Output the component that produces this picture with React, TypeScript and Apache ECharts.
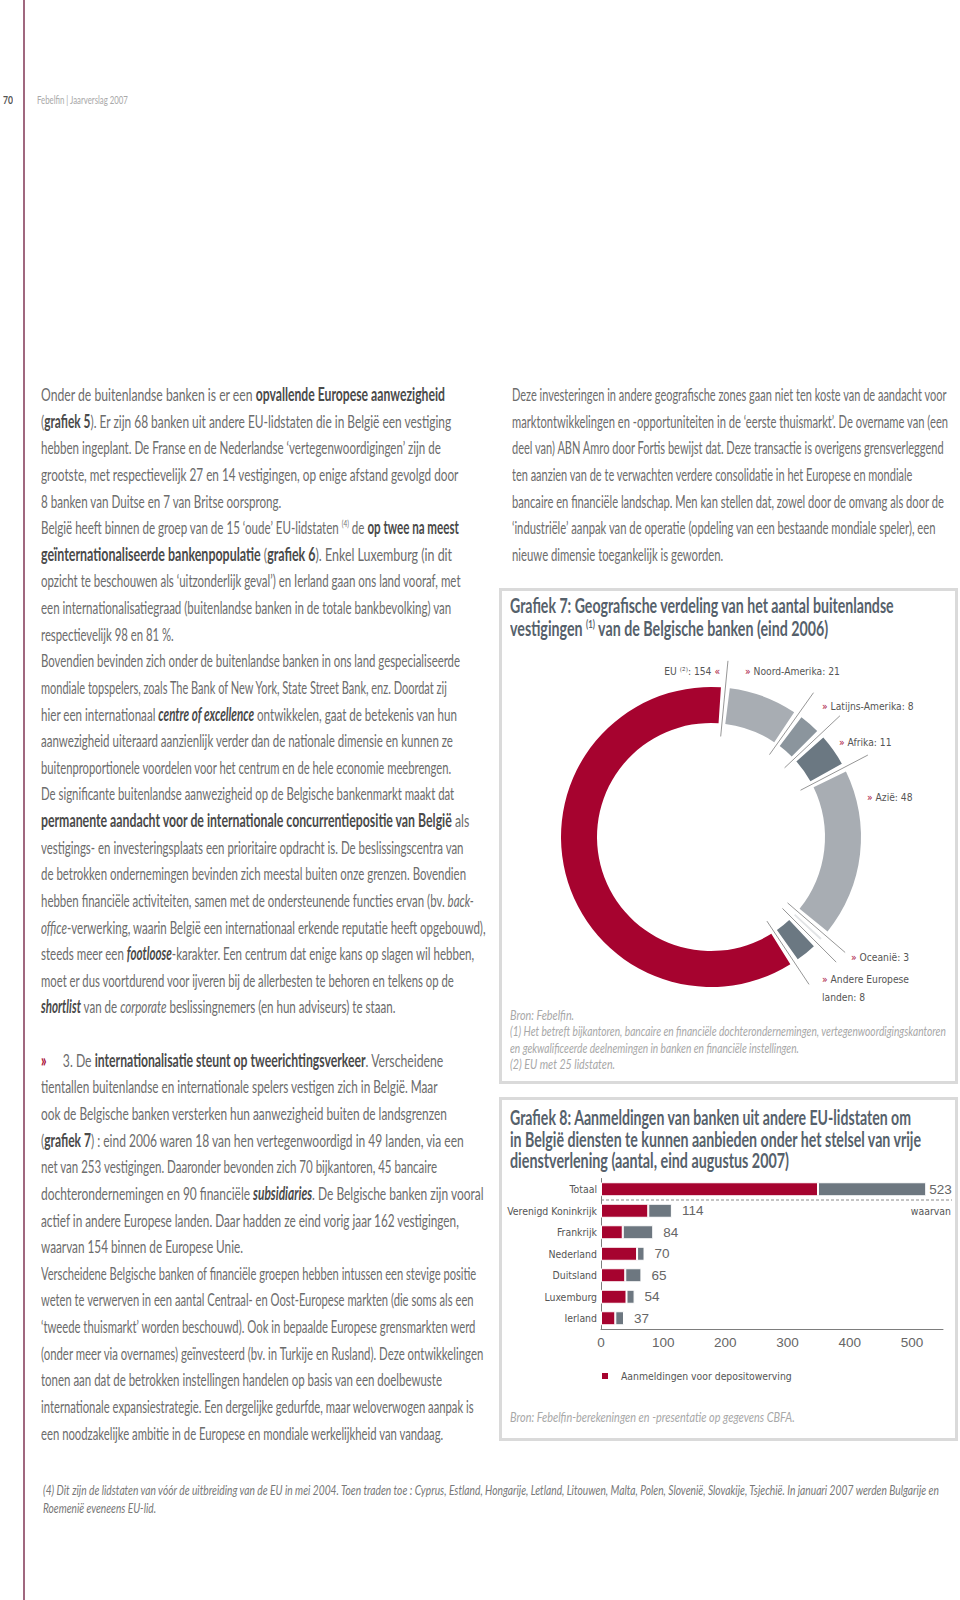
import React, { useEffect, useLayoutEffect, useRef, useMemo } from 'react';
import * as echarts from 'echarts';

// ---------------- data ----------------
const regionNames = ['Noord-Amerika', 'Latijns-Amerika', 'Afrika', 'Azië', 'Oceanië', 'Andere Europese landen', 'EU'];
const regionValues = [21, 8, 11, 48, 3, 8, 154];

const barCategories = ['Totaal', 'Verenigd Koninkrijk', 'Frankrijk', 'Nederland', 'Duitsland', 'Luxemburg', 'Ierland'];
const depositValues = [349, 76, 35, 58, 39, 41, 23];
const otherValues = [174, 38, 49, 12, 26, 13, 14];
const totalValues = [523, 114, 84, 70, 65, 54, 37];
const xAxisMin = 0;
const xAxisMax = 550;
const xAxisInterval = 100;
const legendLabel = 'Aanmeldingen voor depositowerving';
const otherLabel = 'Overige aanmeldingen';

const leftLines = [
  'Onder de buitenlandse banken is er een **opvallende Europese aanwezigheid**',
  '(**grafiek 5**). Er zijn 68 banken uit andere EU-lidstaten die in België een vestiging',
  'hebben ingeplant. De Franse en de Nederlandse ‘vertegenwoordigingen’ zijn de',
  'grootste, met respectievelijk 27 en 14 vestigingen, op enige afstand gevolgd door',
  '8 banken van Duitse en 7 van Britse oorsprong.',
  'België heeft binnen de groep van de 15 ‘oude’ EU-lidstaten ^(4)^ de **op twee na meest**',
  '**geïnternationaliseerde bankenpopulatie** (**grafiek 6**). Enkel Luxemburg (in dit',
  'opzicht te beschouwen als ‘uitzonderlijk geval’) en Ierland gaan ons land vooraf, met',
  'een internationalisatiegraad (buitenlandse banken in de totale bankbevolking) van',
  'respectievelijk 98 en 81 %.',
  'Bovendien bevinden zich onder de buitenlandse banken in ons land gespecialiseerde',
  'mondiale topspelers, zoals The Bank of New York, State Street Bank, enz. Doordat zij',
  'hier een internationaal ***centre of excellence*** ontwikkelen, gaat de betekenis van hun',
  'aanwezigheid uiteraard aanzienlijk verder dan de nationale dimensie en kunnen ze',
  'buitenproportionele voordelen voor het centrum en de hele economie meebrengen.',
  'De significante buitenlandse aanwezigheid op de Belgische bankenmarkt maakt dat',
  '**permanente aandacht voor de internationale concurrentiepositie van België** als',
  'vestigings- en investeringsplaats een prioritaire opdracht is. De beslissingscentra van',
  'de betrokken ondernemingen bevinden zich meestal buiten onze grenzen. Bovendien',
  'hebben financiële activiteiten, samen met de ondersteunende functies ervan (bv. *back-*',
  '*office*-verwerking, waarin België een internationaal erkende reputatie heeft opgebouwd),',
  'steeds meer een ***footloose***-karakter. Een centrum dat enige kans op slagen wil hebben,',
  'moet er dus voortdurend voor ijveren bij de allerbesten te behoren en telkens op de',
  '***shortlist*** van de *corporate* beslissingnemers (en hun adviseurs) te staan.',
  '',
  '~»~3. De **internationalisatie steunt op tweerichtingsverkeer**. Verscheidene',
  'tientallen buitenlandse en internationale spelers vestigen zich in België. Maar',
  'ook de Belgische banken versterken hun aanwezigheid buiten de landsgrenzen',
  '(**grafiek 7**) : eind 2006 waren 18 van hen vertegenwoordigd in 49 landen, via een',
  'net van 253 vestigingen. Daaronder bevonden zich 70 bijkantoren, 45 bancaire',
  'dochterondernemingen en 90 financiële ***subsidiaries***. De Belgische banken zijn vooral',
  'actief in andere Europese landen. Daar hadden ze eind vorig jaar 162 vestigingen,',
  'waarvan 154 binnen de Europese Unie.',
  'Verscheidene Belgische banken of financiële groepen hebben intussen een stevige positie',
  'weten te verwerven in een aantal Centraal- en Oost-Europese markten (die soms als een',
  '‘tweede thuismarkt’ worden beschouwd). Ook in bepaalde Europese grensmarkten werd',
  '(onder meer via overnames) geïnvesteerd (bv. in Turkije en Rusland). Deze ontwikkelingen',
  'tonen aan dat de betrokken instellingen handelen op basis van een doelbewuste',
  'internationale expansiestrategie. Een dergelijke gedurfde, maar weloverwogen aanpak is',
  'een noodzakelijke ambitie in de Europese en mondiale werkelijkheid van vandaag.',
];

const rightLines = [
  'Deze investeringen in andere geografische zones gaan niet ten koste van de aandacht voor',
  'marktontwikkelingen en -opportuniteiten in de ‘eerste thuismarkt’. De overname van (een',
  'deel van) ABN Amro door Fortis bewijst dat. Deze transactie is overigens grensverleggend',
  'ten aanzien van de te verwachten verdere consolidatie in het Europese en mondiale',
  'bancaire en financiële landschap. Men kan stellen dat, zowel door de omvang als door de',
  '‘industriële’ aanpak van de operatie (opdeling van een bestaande mondiale speler), een',
  'nieuwe dimensie toegankelijk is geworden.',
];

const title7Lines = [
  'Grafiek 7: Geografische verdeling van het aantal buitenlandse',
  'vestigingen ^(1)^ van de Belgische banken (eind 2006)',
];
const notes7Lines = [
  'Bron: Febelfin.',
  '(1)  Het betreft bijkantoren, bancaire en financiële dochterondernemingen, vertegenwoordigingskantoren',
  'en gekwalificeerde deelnemingen in banken en financiële instellingen.',
  '(2) EU met 25 lidstaten.',
];
const title8Lines = [
  'Grafiek 8: Aanmeldingen van banken uit andere EU-lidstaten om',
  'in België diensten te kunnen aanbieden onder het stelsel van vrije',
  'dienstverlening (aantal, eind augustus 2007)',
];
const source8 = 'Bron: Febelfin-berekeningen en -presentatie op gegevens CBFA.';
const footnoteLines = [
  '(4)  Dit zijn de lidstaten van vóór de uitbreiding van de EU in mei 2004. Toen traden toe : Cyprus, Estland, Hongarije, Letland, Litouwen, Malta, Polen, Slovenië, Slovakije, Tsjechië. In januari 2007 werden Bulgarije en',
  'Roemenië eveneens EU-lid.',
];
const pageNumber = '70';
const headerText = 'Febelfin | Jaarverslag 2007';

// ---------------- layout (line right ends, page px) ----------------
const LEFT_X = 40.7;
const RIGHT_X = 511.7;
const leftEnds = [
  445, 450.7, 440.7, 458.3, 280.7, 458.3, 452, 460, 450.7, 173.3,
  460, 446.7, 456.7, 452.7, 450.7, 454, 469.3, 463.3, 466, 473.3,
  485, 474, 453.3, 395, 0, 442.7, 437.3, 446.7, 463.3, 436.7,
  483.3, 458.3, 242.7, 476, 473.3, 475, 483.3, 441.7, 473.3, 442.7,
];
const rightEnds = [946, 948, 943, 912, 943.5, 935, 723];
const title7W = [383.7, 318];
const title8W = [401, 411, 279];
const notes7W = [64, 436, 289, 105];
const source8W = 285;
const footW = [896, 113];
const headerW = 91;

// ---------------- styles ----------------
const RED = '#a6032f';
const TEXT_C = '#6c6c6c';
const BOLD_C = '#4a4a4a';
const TITLE_C = '#56616b';
const NOTE_C = '#a8a8a8';
const regionColors = ['#a8adb3', '#8b959d', '#6b7882', '#a8adb3', '#e3e5e7', '#6b7882', RED];
const NARROW = "'Liberation Sans Narrow', 'Arial Narrow', 'DejaVu Sans Condensed', 'Roboto', sans-serif";
const BODY = 'Lato';

let _ctx: CanvasRenderingContext2D | null = null;
function mw(text: string, font: string): number {
  if (!_ctx) _ctx = document.createElement('canvas').getContext('2d');
  _ctx!.font = font;
  return _ctx!.measureText(text).width;
}

function renderMarkup(s: string) {
  const parts = s.split(/(\*\*\*[^*]+\*\*\*|\*\*[^*]+\*\*|\*[^*]+\*|\^[^^]+\^|~[^~]+~)/g).filter(Boolean);
  return parts.map((p, i) => {
    if (p.startsWith('***')) return <span key={i} style={{ fontStyle: 'italic', fontWeight: 700, color: BOLD_C }}>{p.slice(3, -3)}</span>;
    if (p.startsWith('**')) return <span key={i} style={{ fontWeight: 700, color: BOLD_C }}>{p.slice(2, -2)}</span>;
    if (p.startsWith('*')) return <span key={i} style={{ fontStyle: 'italic' }}>{p.slice(1, -1)}</span>;
    if (p.startsWith('^')) return <span key={i} style={{ fontSize: '0.55em', position: 'relative', top: '-0.7em' }}>{p.slice(1, -1)}</span>;
    if (p.startsWith('~')) return <span key={i} style={{ color: RED, fontWeight: 700, paddingRight: 24 }}>{p.slice(1, -1)}</span>;
    return <React.Fragment key={i}>{p}</React.Fragment>;
  });
}

type LineProps = { x: number; y: number; h: number; w: number; size: number; weight?: number; italic?: boolean; color: string; text: string; family?: string };
function Line({ x, y, h, w, size, weight = 400, italic = false, color, text, family = BODY }: LineProps) {
  const ref = useRef<HTMLDivElement>(null);
  useLayoutEffect(() => {
    const fit = () => {
      const el = ref.current;
      if (!el) return;
      const nat = el.offsetWidth;
      if (nat > 0) el.style.transform = `scaleX(${w / nat})`;
    };
    fit();
    const f: any = (document as any).fonts;
    if (f && f.ready) f.ready.then(fit);
  }, [w, text]);
  return (
    <div
      ref={ref}
      style={{
        position: 'absolute', left: x, top: y - h / 2, height: h, lineHeight: h + 'px',
        whiteSpace: 'nowrap', transformOrigin: '0 50%',
        fontFamily: family, fontSize: size, fontWeight: weight, fontStyle: italic ? 'italic' : 'normal', color,
      }}
    >
      {renderMarkup(text)}
    </div>
  );
}

// donut geometry
const D_CX = 211, D_CY = 248, D_RIN = 114, D_ROUT = 150, D_OFFSET = 5.5;
const SEP_R1 = 101, SEP_R2 = 177;
const donutLabelPos = [
  { x: 245, y: 82, align: 'left' },
  { x: 322, y: 117, align: 'left' },
  { x: 339, y: 153, align: 'left' },
  { x: 367, y: 208, align: 'left' },
  { x: 351, y: 368, align: 'left' },
  { x: 322, y: 399, align: 'left' },
  { x: 220, y: 82, align: 'right' },
];

// bar geometry
const B_LEFT = 101, B_RIGHT = 14, B_TOP = 80.5, B_BOTTOM = 111, B_W = 457, B_H = 342;

function DonutChart({ fs }: { fs: number }) {
  const ref = useRef<HTMLDivElement>(null);
  useEffect(() => {
    const chart = echarts.init(ref.current!, undefined, { renderer: 'svg' });
    const total = regionValues.reduce((a, b) => a + b, 0);
    const lines: any[] = [];
    let cum = 0;
    for (let i = 0; i < regionValues.length; i++) {
      const th = ((D_OFFSET + (cum / total) * 360) * Math.PI) / 180;
      lines.push({
        type: 'line', silent: true,
        shape: {
          x1: D_CX + SEP_R1 * Math.sin(th), y1: D_CY - SEP_R1 * Math.cos(th),
          x2: D_CX + SEP_R2 * Math.sin(th), y2: D_CY - SEP_R2 * Math.cos(th),
        },
        style: { stroke: '#8a8a8a', lineWidth: 0.9 },
      });
      cum += regionValues[i];
    }
    chart.setOption({
      animation: false,
      series: [
        {
          type: 'pie', center: [D_CX, D_CY], radius: [D_RIN, D_ROUT], startAngle: 90 - D_OFFSET, clockwise: true,
          padAngle: 3.4, avoidLabelOverlap: false, silent: true,
          data: regionNames.map((n, i) => ({ name: n, value: regionValues[i], itemStyle: { color: regionColors[i] } })),
          label: {
            show: true, position: 'outside',
            formatter: (p: any) => {
              if (p.name === 'EU') return `{t|EU ⁽²⁾: ${p.value} }{r|«}`;
              if (p.name === 'Andere Europese landen') return `{r|» }{t|Andere Europese}\n{t|landen: ${p.value}}`;
              return `{r|» }{t|${p.name}: ${p.value}}`;
            },
            rich: {
              r: { color: RED, fontSize: fs, fontFamily: NARROW, lineHeight: 18 },
              t: { color: '#555', fontSize: fs, fontFamily: NARROW, lineHeight: 18 },
            },
          },
          labelLine: { show: false },
          labelLayout: (p: any) => {
            const L = donutLabelPos[p.dataIndex];
            return { x: L.x, y: L.y, align: L.align, verticalAlign: 'middle' };
          },
        },
      ],
      graphic: lines,
    });
    return () => chart.dispose();
  }, [fs]);
  return <div ref={ref} style={{ position: 'absolute', left: 500, top: 589, width: 457, height: 494 }} />;
}

function BarChart({ fs, lfs }: { fs: number; lfs: number }) {
  const ref = useRef<HTMLDivElement>(null);
  useEffect(() => {
    const chart = echarts.init(ref.current!, undefined, { renderer: 'svg' });
    const plotH = B_H - B_TOP - B_BOTTOM;
    const band = plotH / barCategories.length;
    chart.setOption({
      animation: false,
      grid: { left: B_LEFT, right: B_RIGHT, top: B_TOP, bottom: B_BOTTOM, containLabel: false },
      legend: {
        data: [legendLabel], left: 95, top: 268, icon: 'rect', itemWidth: 8, itemHeight: 8, selectedMode: false,
        textStyle: { color: '#555', fontSize: lfs, fontFamily: NARROW, padding: [0, 0, 0, 7] },
      },
      xAxis: {
        type: 'value', min: xAxisMin, max: xAxisMax, interval: xAxisInterval,
        axisLine: { show: true, lineStyle: { color: '#7d7d7d', width: 1 } },
        axisTick: { show: false }, splitLine: { show: false },
        axisLabel: { color: '#666', fontSize: 13.5, fontFamily: "'Liberation Sans', sans-serif", margin: 6, showMaxLabel: false },
      },
      yAxis: {
        type: 'category', inverse: true, data: barCategories,
        axisLine: { show: true, lineStyle: { color: '#7d7d7d', width: 1 } },
        axisTick: { show: false },
        axisLabel: { color: '#555', fontSize: fs, fontFamily: NARROW, margin: 4 },
      },
      series: [
        {
          name: legendLabel, type: 'bar', stack: 's', barWidth: 14, data: depositValues,
          itemStyle: { color: RED, borderColor: '#fff', borderWidth: 1 },
        },
        {
          name: otherLabel, type: 'bar', stack: 's', barWidth: 14,
          data: otherValues.map((v, i) => ({ value: v, label: { distance: i === 0 ? 3 : 10 } })),
          itemStyle: { color: '#6d7780', borderColor: '#fff', borderWidth: 1 },
          label: {
            show: true, position: 'right', color: '#666', fontSize: 13.5, fontFamily: "'Liberation Sans', sans-serif",
            formatter: (p: any) => String(totalValues[p.dataIndex]),
          },
        },
      ],
      graphic: [
        {
          type: 'line', silent: true,
          shape: { x1: B_LEFT, y1: B_TOP + band, x2: 452, y2: B_TOP + band },
          style: { stroke: '#8a8a8a', lineWidth: 1, lineDash: [3, 2] },
        },
        {
          type: 'text', silent: true, x: 451, y: B_TOP + band * 1.5,
          style: { text: 'waarvan', fill: '#555', fontSize: fs, fontFamily: NARROW, align: 'right', verticalAlign: 'middle' },
        },
      ],
    });
    return () => chart.dispose();
  }, [fs, lfs]);
  return <div ref={ref} style={{ position: 'absolute', left: 500, top: 1098, width: B_W, height: B_H }} />;
}

export default function App() {
  useEffect(() => {
    document.body.style.margin = '0';
  }, []);

  const fsz = useMemo(() => {
    const nar = `13px ${NARROW}`;
    const fsDonut = Math.max(10, Math.min(14, (13 * 95) / mw('» Noord-Amerika: 21', nar)));
    const fsBar = Math.max(10, Math.min(14, (13 * 90) / mw('Verenigd Koninkrijk', nar)));
    const fsLeg = Math.max(10, Math.min(14, (13 * 171) / mw(legendLabel, nar)));
    return { fsDonut, fsBar, fsLeg };
  }, []);

  const LH = 26.63;
  const Y0 = 394;

  return (
    <div style={{ position: 'absolute', left: 0, top: 0, width: 960, height: 1600, background: '#fff', overflow: 'hidden' }}>
      <div style={{ position: 'absolute', left: 23, top: 0, width: 2, height: 1600, background: '#a0687f' }} />
      <Line x={3} y={100} h={16} w={10} size={12} weight={700} color="#555" text={pageNumber} />
      <Line x={37} y={100} h={16} w={headerW} size={12} color="#a9a9a9" text={headerText} />

      {leftLines.map((t, i) =>
        t ? <Line key={'l' + i} x={LEFT_X} y={Y0 + i * LH} h={24} w={leftEnds[i] - LEFT_X} size={18} color={TEXT_C} text={t} /> : null
      )}
      {rightLines.map((t, i) => (
        <Line key={'r' + i} x={RIGHT_X} y={Y0 + i * LH} h={24} w={rightEnds[i] - RIGHT_X} size={18} color={TEXT_C} text={t} />
      ))}

      <DonutChart fs={fsz.fsDonut} />
      <BarChart fs={fsz.fsBar} lfs={fsz.fsLeg} />

      {title7Lines.map((t, i) => (
        <Line key={'t7' + i} x={510} y={605 + i * 22.5} h={22} w={title7W[i]} size={20} weight={700} color={TITLE_C} text={t} />
      ))}
      {notes7Lines.map((t, i) => (
        <Line key={'n7' + i} x={510} y={1015 + i * 16.4} h={16} w={notes7W[i]} size={14} italic color={NOTE_C} text={t} />
      ))}
      {title8Lines.map((t, i) => (
        <Line key={'t8' + i} x={510} y={1117 + i * 21.5} h={22} w={title8W[i]} size={20} weight={700} color={TITLE_C} text={t} />
      ))}
      <Line x={510} y={1417} h={16} w={source8W} size={14} italic color={NOTE_C} text={source8} />

      <div style={{ position: 'absolute', left: 499, top: 588, width: 459, height: 496, border: '3px solid #dadada', boxSizing: 'border-box', pointerEvents: 'none' }} />
      <div style={{ position: 'absolute', left: 499, top: 1097, width: 459, height: 344, border: '3px solid #dadada', boxSizing: 'border-box', pointerEvents: 'none' }} />

      {footnoteLines.map((t, i) => (
        <Line key={'f' + i} x={43} y={1489 + i * 18.5} h={17} w={footW[i]} size={14} italic color="#777" text={t} />
      ))}
    </div>
  );
}
